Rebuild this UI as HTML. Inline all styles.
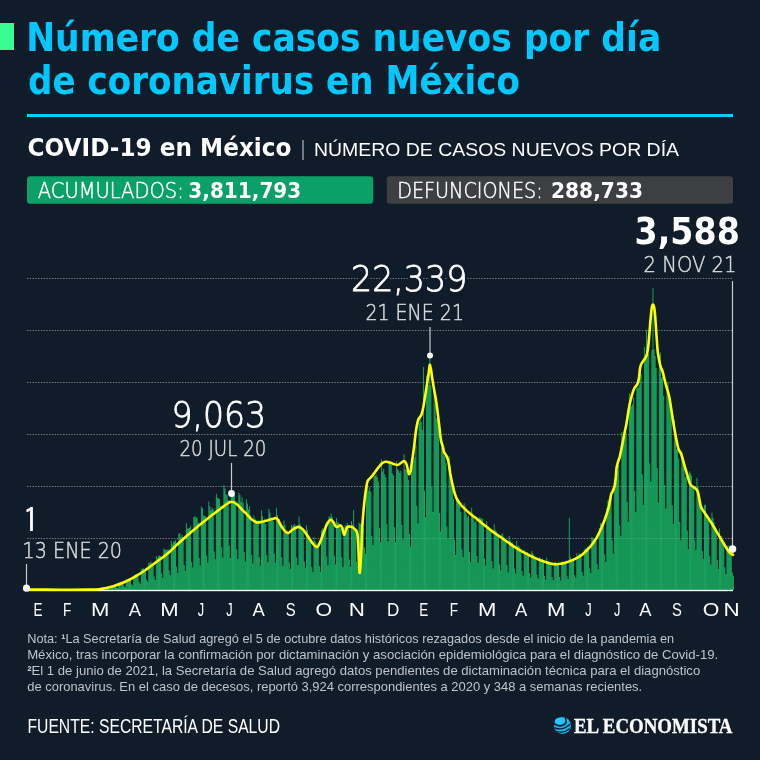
<!DOCTYPE html>
<html lang="es">
<head>
<meta charset="utf-8">
<title>Número de casos nuevos por día de coronavirus en México</title>
<style>
html,body{margin:0;padding:0;background:#101c2a;}
body{width:760px;height:760px;overflow:hidden;position:relative;}
svg{display:block;position:absolute;left:0;top:0;}
.sans{font-family:"Liberation Sans",Arial,sans-serif;}
.dv{font-family:"DejaVu Sans","Liberation Sans",sans-serif;}
.dvl{font-family:"DejaVu Sans","Liberation Sans",sans-serif;font-weight:200;}
.serif{font-family:"Liberation Serif","Times New Roman",serif;}
</style>
</head>
<body>
<svg width="760" height="760" viewBox="0 0 760 760">
  <rect x="0" y="0" width="760" height="760" fill="#101c2a"/>
  <!-- header -->
  <rect x="0" y="23" width="14" height="27" fill="#39fc95"/>
  <g class="dv" font-weight="700" fill="#00c8ff" font-size="39">
    <text x="26.2" y="50.5" textLength="635" lengthAdjust="spacingAndGlyphs">Número de casos nuevos por día</text>
    <text x="28" y="94" textLength="492" lengthAdjust="spacingAndGlyphs">de coronavirus en México</text>
  </g>
  <rect x="27" y="114" width="706" height="3" fill="#00cfff"/>
  <text class="dv" x="27.5" y="156" fill="#ffffff" font-size="25.5" font-weight="700" textLength="264" lengthAdjust="spacingAndGlyphs">COVID-19 en México</text>
  <rect x="302.3" y="140" width="1.4" height="20" fill="#9aa0a8"/>
  <text class="sans" x="314" y="155.7" fill="#ffffff" font-size="18.5" textLength="365" lengthAdjust="spacingAndGlyphs">NÚMERO DE CASOS NUEVOS POR DÍA</text>
  <!-- boxes -->
  <rect x="27" y="176.3" width="346.2" height="27.5" rx="3" fill="#0ba068"/>
  <rect x="386.8" y="176.3" width="346.2" height="27.5" rx="3" fill="#3d3f42"/>
  <g class="dvl" fill="#ffffff" stroke="#ffffff" stroke-width="0.45" font-size="21">
    <text x="37.8" y="198" textLength="146" lengthAdjust="spacingAndGlyphs">ACUMULADOS:</text>
    <text x="397.2" y="198" textLength="145.5" lengthAdjust="spacingAndGlyphs">DEFUNCIONES:</text>
  </g>
  <g class="dv" fill="#ffffff" font-size="20.5" font-weight="700">
    <text x="188.3" y="198" textLength="113" lengthAdjust="spacingAndGlyphs">3,811,793</text>
    <text x="551" y="198" textLength="92" lengthAdjust="spacingAndGlyphs">288,733</text>
  </g>
  <!-- gridlines -->
  <g stroke="#ffffff" stroke-opacity="0.33" stroke-width="1" stroke-dasharray="1.4 1.37">
    <line x1="27" y1="278.5" x2="733" y2="278.5"/>
    <line x1="27" y1="330.5" x2="733" y2="330.5"/>
    <line x1="27" y1="382.5" x2="733" y2="382.5"/>
    <line x1="27" y1="434.5" x2="733" y2="434.5"/>
    <line x1="27" y1="486.5" x2="733" y2="486.5"/>
    <line x1="27" y1="538.5" x2="733" y2="538.5"/>
  </g>
  <!-- bars -->
  <path fill="#19ae60" d="M96.84 589.0h0.92V590H96.84zM97.91 589.0h0.92V590H97.91zM98.98 588.9h0.92V590H98.98zM100.06 588.9h0.92V590H100.06zM101.13 589.4h0.92V590H101.13zM102.20 589.5h0.92V590H102.20zM103.27 588.1h0.92V590H103.27zM104.35 587.8h0.92V590H104.35zM105.42 587.7h0.92V590H105.42zM106.49 587.4h0.92V590H106.49zM107.56 587.3h0.92V590H107.56zM108.64 588.6h0.92V590H108.64zM109.71 588.8h0.92V590H109.71zM110.78 585.8h0.92V590H110.78zM111.85 586.0h0.92V590H111.85zM112.93 585.7h0.92V590H112.93zM114.00 585.1h0.92V590H114.00zM115.07 584.7h0.92V590H115.07zM116.15 587.4h0.92V590H116.15zM117.22 588.0h0.92V590H117.22zM118.29 582.6h0.92V590H118.29zM119.36 583.1h0.92V590H119.36zM120.44 582.3h0.92V590H120.44zM121.51 582.5h0.92V590H121.51zM122.58 582.4h0.92V590H122.58zM123.65 586.3h0.92V590H123.65zM124.73 586.9h0.92V590H124.73zM125.80 579.0h0.92V590H125.80zM126.87 579.4h0.92V590H126.87zM127.95 578.7h0.92V590H127.95zM129.02 578.2h0.92V590H129.02zM130.09 578.3h0.92V590H130.09zM131.16 584.2h0.92V590H131.16zM132.24 585.6h0.92V590H132.24zM133.31 575.4h0.92V590H133.31zM134.38 575.1h0.92V590H134.38zM135.45 574.0h0.92V590H135.45zM136.53 573.9h0.92V590H136.53zM137.60 573.9h0.92V590H137.60zM138.67 582.0h0.92V590H138.67zM139.74 583.7h0.92V590H139.74zM140.82 569.5h0.92V590H140.82zM141.89 568.4h0.92V590H141.89zM142.96 568.5h0.92V590H142.96zM144.04 569.1h0.92V590H144.04zM145.11 568.2h0.92V590H145.11zM146.18 579.6h0.92V590H146.18zM147.25 581.5h0.92V590H147.25zM148.33 562.4h0.92V590H148.33zM149.40 563.6h0.92V590H149.40zM150.47 561.6h0.92V590H150.47zM151.54 563.5h0.92V590H151.54zM152.62 562.7h0.92V590H152.62zM153.69 576.5h0.92V590H153.69zM154.76 580.1h0.92V590H154.76zM155.84 556.3h0.92V590H155.84zM156.91 558.1h0.92V590H156.91zM157.98 556.0h0.92V590H157.98zM159.05 555.4h0.92V590H159.05zM160.13 556.1h0.92V590H160.13zM161.20 573.4h0.92V590H161.20zM162.27 577.8h0.92V590H162.27zM163.34 548.6h0.92V590H163.34zM164.42 549.5h0.92V590H164.42zM165.49 549.7h0.92V590H165.49zM166.56 550.1h0.92V590H166.56zM167.64 548.9h0.92V590H167.64zM168.71 570.2h0.92V590H168.71zM169.78 575.3h0.92V590H169.78zM170.85 540.9h0.92V590H170.85zM171.93 544.4h0.92V590H171.93zM173.00 541.5h0.92V590H173.00zM174.07 541.5h0.92V590H174.07zM175.14 540.1h0.92V590H175.14zM176.22 566.8h0.92V590H176.22zM177.29 572.9h0.92V590H177.29zM178.36 533.8h0.92V590H178.36zM179.43 533.1h0.92V590H179.43zM180.51 537.2h0.92V590H180.51zM181.58 534.7h0.92V590H181.58zM182.65 536.9h0.92V590H182.65zM183.73 565.1h0.92V590H183.73zM184.80 570.8h0.92V590H184.80zM185.87 523.3h0.92V590H185.87zM186.94 528.6h0.92V590H186.94zM188.02 528.5h0.92V590H188.02zM189.09 527.8h0.92V590H189.09zM190.16 525.7h0.92V590H190.16zM191.23 562.1h0.92V590H191.23zM192.31 567.6h0.92V590H192.31zM193.38 516.9h0.92V590H193.38zM194.45 516.0h0.92V590H194.45zM195.53 517.5h0.92V590H195.53zM196.60 517.5h0.92V590H196.60zM197.67 522.6h0.92V590H197.67zM198.74 557.9h0.92V590H198.74zM199.82 565.4h0.92V590H199.82zM200.89 506.6h0.92V590H200.89zM201.96 508.0h0.92V590H201.96zM203.03 515.4h0.92V590H203.03zM204.11 515.7h0.92V590H204.11zM205.18 516.6h0.92V590H205.18zM206.25 555.6h0.92V590H206.25zM207.33 562.8h0.92V590H207.33zM208.40 501.6h0.92V590H208.40zM209.47 506.6h0.92V590H209.47zM210.54 510.2h0.92V590H210.54zM211.62 507.4h0.92V590H211.62zM212.69 509.3h0.92V590H212.69zM213.76 551.5h0.92V590H213.76zM214.83 559.3h0.92V590H214.83zM215.91 493.7h0.92V590H215.91zM216.98 497.8h0.92V590H216.98zM218.05 498.5h0.92V590H218.05zM219.12 498.9h0.92V590H219.12zM220.20 506.1h0.92V590H220.20zM221.27 547.3h0.92V590H221.27zM222.34 557.6h0.92V590H222.34zM223.42 484.9h0.92V590H223.42zM224.49 488.5h0.92V590H224.49zM225.56 494.3h0.92V590H225.56zM226.63 495.2h0.92V590H226.63zM227.71 500.0h0.92V590H227.71zM228.78 545.8h0.92V590H228.78zM229.85 558.1h0.92V590H229.85zM230.92 488.0h0.92V590H230.92zM232.00 490.5h0.92V590H232.00zM233.07 494.3h0.92V590H233.07zM234.14 494.9h0.92V590H234.14zM235.22 500.9h0.92V590H235.22zM236.29 549.2h0.92V590H236.29zM237.36 558.9h0.92V590H237.36zM238.43 492.7h0.92V590H238.43zM239.51 494.8h0.92V590H239.51zM240.58 501.9h0.92V590H240.58zM241.65 497.3h0.92V590H241.65zM242.72 503.6h0.92V590H242.72zM243.80 552.3h0.92V590H243.80zM244.87 561.4h0.92V590H244.87zM245.94 499.2h0.92V590H245.94zM247.01 503.6h0.92V590H247.01zM248.09 509.4h0.92V590H248.09zM249.16 506.3h0.92V590H249.16zM250.23 514.9h0.92V590H250.23zM251.31 554.8h0.92V590H251.31zM252.38 563.4h0.92V590H252.38zM253.45 515.5h0.92V590H253.45zM254.52 518.8h0.92V590H254.52zM255.60 519.7h0.92V590H255.60zM256.67 522.0h0.92V590H256.67zM257.74 520.0h0.92V590H257.74zM258.81 557.2h0.92V590H258.81zM259.89 565.4h0.92V590H259.89zM260.96 510.3h0.92V590H260.96zM262.03 516.1h0.92V590H262.03zM263.11 520.6h0.92V590H263.11zM264.18 518.8h0.92V590H264.18zM265.25 524.1h0.92V590H265.25zM266.32 555.2h0.92V590H266.32zM267.40 562.2h0.92V590H267.40zM268.47 508.7h0.92V590H268.47zM269.54 512.5h0.92V590H269.54zM270.61 517.6h0.92V590H270.61zM271.69 517.9h0.92V590H271.69zM272.76 521.2h0.92V590H272.76zM273.83 553.4h0.92V590H273.83zM274.91 562.8h0.92V590H274.91zM275.98 507.7h0.92V590H275.98zM277.05 515.2h0.92V590H277.05zM278.12 520.0h0.92V590H278.12zM279.20 519.1h0.92V590H279.20zM280.27 522.0h0.92V590H280.27zM281.34 557.3h0.92V590H281.34zM282.41 565.8h0.92V590H282.41zM283.49 520.4h0.92V590H283.49zM284.56 524.8h0.92V590H284.56zM285.63 530.5h0.92V590H285.63zM286.70 530.6h0.92V590H286.70zM287.78 533.7h0.92V590H287.78zM288.85 562.4h0.92V590H288.85zM289.92 568.8h0.92V590H289.92zM291.00 524.9h0.92V590H291.00zM292.07 526.5h0.92V590H292.07zM293.14 524.9h0.92V590H293.14zM294.21 523.9h0.92V590H294.21zM295.29 528.5h0.92V590H295.29zM296.36 557.4h0.92V590H296.36zM297.43 564.9h0.92V590H297.43zM298.50 516.6h0.92V590H298.50zM299.58 523.8h0.92V590H299.58zM300.65 527.1h0.92V590H300.65zM301.72 528.8h0.92V590H301.72zM302.80 531.8h0.92V590H302.80zM303.87 561.6h0.92V590H303.87zM304.94 568.1h0.92V590H304.94zM306.01 525.3h0.92V590H306.01zM307.09 529.7h0.92V590H307.09zM308.16 535.1h0.92V590H308.16zM309.23 536.8h0.92V590H309.23zM310.30 539.3h0.92V590H310.30zM311.38 567.1h0.92V590H311.38zM312.45 572.1h0.92V590H312.45zM313.52 537.2h0.92V590H313.52zM314.60 541.1h0.92V590H314.60zM315.67 543.2h0.92V590H315.67zM316.74 545.3h0.92V590H316.74zM317.81 547.0h0.92V590H317.81zM318.89 566.0h0.92V590H318.89zM319.96 571.8h0.92V590H319.96zM321.03 530.5h0.92V590H321.03zM322.10 528.4h0.92V590H322.10zM323.18 530.4h0.92V590H323.18zM324.25 528.7h0.92V590H324.25zM325.32 524.4h0.92V590H325.32zM326.39 556.6h0.92V590H326.39zM327.47 565.3h0.92V590H327.47zM328.54 516.3h0.92V590H328.54zM329.61 517.5h0.92V590H329.61zM330.69 513.8h0.92V590H330.69zM331.76 517.0h0.92V590H331.76zM332.83 524.6h0.92V590H332.83zM333.90 555.8h0.92V590H333.90zM334.98 564.3h0.92V590H334.98zM336.05 518.1h0.92V590H336.05zM337.12 522.4h0.92V590H337.12zM338.19 522.6h0.92V590H338.19zM339.27 526.2h0.92V590H339.27zM340.34 528.7h0.92V590H340.34zM341.41 557.3h0.92V590H341.41zM342.49 567.1h0.92V590H342.49zM343.56 527.6h0.92V590H343.56zM344.63 525.1h0.92V590H344.63zM345.70 527.3h0.92V590H345.70zM346.78 523.0h0.92V590H346.78zM347.85 524.9h0.92V590H347.85zM348.92 559.4h0.92V590H348.92zM349.99 566.7h0.92V590H349.99zM351.07 521.0h0.92V590H351.07zM352.14 524.4h0.92V590H352.14zM353.21 510.0h0.92V590H353.21zM354.28 528.8h0.92V590H354.28zM355.36 531.0h0.92V590H355.36zM356.43 562.0h0.92V590H356.43zM357.50 566.3h0.92V590H357.50zM358.58 522.4h0.92V590H358.58zM359.65 523.7h0.92V590H359.65zM360.72 523.7h0.92V590H360.72zM361.79 526.3h0.92V590H361.79zM362.87 528.0h0.92V590H362.87zM363.94 547.3h0.92V590H363.94zM365.01 553.4h0.92V590H365.01zM366.08 485.3h0.92V590H366.08zM367.16 484.3h0.92V590H367.16zM368.23 490.8h0.92V590H368.23zM369.30 487.2h0.92V590H369.30zM370.38 491.8h0.92V590H370.38zM371.45 535.9h0.92V590H371.45zM372.52 544.9h0.92V590H372.52zM373.59 476.2h0.92V590H373.59zM374.67 475.5h0.92V590H374.67zM375.74 474.5h0.92V590H375.74zM376.81 477.2h0.92V590H376.81zM377.88 481.8h0.92V590H377.88zM378.96 528.0h0.92V590H378.96zM380.03 542.3h0.92V590H380.03zM381.10 459.2h0.92V590H381.10zM382.18 471.5h0.92V590H382.18zM383.25 468.8h0.92V590H383.25zM384.32 474.3h0.92V590H384.32zM385.39 477.3h0.92V590H385.39zM386.47 524.3h0.92V590H386.47zM387.54 541.4h0.92V590H387.54zM388.61 460.5h0.92V590H388.61zM389.68 462.9h0.92V590H389.68zM390.76 465.0h0.92V590H390.76zM391.83 473.3h0.92V590H391.83zM392.90 475.2h0.92V590H392.90zM393.97 527.0h0.92V590H393.97zM395.05 542.2h0.92V590H395.05zM396.12 461.3h0.92V590H396.12zM397.19 469.0h0.92V590H397.19zM398.27 470.8h0.92V590H398.27zM399.34 473.1h0.92V590H399.34zM400.41 470.7h0.92V590H400.41zM401.48 524.9h0.92V590H401.48zM402.56 539.4h0.92V590H402.56zM403.63 454.3h0.92V590H403.63zM404.70 468.9h0.92V590H404.70zM405.77 470.0h0.92V590H405.77zM406.85 471.4h0.92V590H406.85zM407.92 479.8h0.92V590H407.92zM408.99 533.9h0.92V590H408.99zM410.07 546.4h0.92V590H410.07zM411.14 464.4h0.92V590H411.14zM412.21 466.1h0.92V590H412.21zM413.28 460.3h0.92V590H413.28zM414.36 457.3h0.92V590H414.36zM415.43 445.0h0.92V590H415.43zM416.50 505.8h0.92V590H416.50zM417.57 523.2h0.92V590H417.57zM418.65 423.1h0.92V590H418.65zM419.72 417.9h0.92V590H419.72zM420.79 421.9h0.92V590H420.79zM421.87 430.0h0.92V590H421.87zM422.94 367.0h0.92V590H422.94zM424.01 490.6h0.92V590H424.01zM425.08 517.3h0.92V590H425.08zM426.16 375.6h0.92V590H426.16zM427.23 387.7h0.92V590H427.23zM428.30 385.1h0.92V590H428.30zM429.37 358.0h0.92V590H429.37zM430.45 385.5h0.92V590H430.45zM431.52 486.9h0.92V590H431.52zM432.59 511.9h0.92V590H432.59zM433.66 387.8h0.92V590H433.66zM434.74 404.5h0.92V590H434.74zM435.81 418.0h0.92V590H435.81zM436.88 419.1h0.92V590H436.88zM437.96 425.7h0.92V590H437.96zM439.03 512.8h0.92V590H439.03zM440.10 531.6h0.92V590H440.10zM441.17 435.6h0.92V590H441.17zM442.25 450.9h0.92V590H442.25zM443.32 454.8h0.92V590H443.32zM444.39 456.2h0.92V590H444.39zM445.46 462.9h0.92V590H445.46zM446.54 526.6h0.92V590H446.54zM447.61 538.3h0.92V590H447.61zM448.68 456.1h0.92V590H448.68zM449.76 465.6h0.92V590H449.76zM450.83 484.4h0.92V590H450.83zM451.90 489.7h0.92V590H451.90zM452.97 498.8h0.92V590H452.97zM454.05 540.0h0.92V590H454.05zM455.12 554.9h0.92V590H455.12zM456.19 496.9h0.92V590H456.19zM457.26 499.8h0.92V590H457.26zM458.34 499.5h0.92V590H458.34zM459.41 503.4h0.92V590H459.41zM460.48 511.9h0.92V590H460.48zM461.55 549.5h0.92V590H461.55zM462.63 557.2h0.92V590H462.63zM463.70 503.2h0.92V590H463.70zM464.77 506.3h0.92V590H464.77zM465.85 514.5h0.92V590H465.85zM466.92 517.2h0.92V590H466.92zM467.99 515.5h0.92V590H467.99zM469.06 551.8h0.92V590H469.06zM470.14 562.3h0.92V590H470.14zM471.21 507.4h0.92V590H471.21zM472.28 513.5h0.92V590H472.28zM473.35 515.3h0.92V590H473.35zM474.43 522.6h0.92V590H474.43zM475.50 520.2h0.92V590H475.50zM476.57 556.1h0.92V590H476.57zM477.65 562.4h0.92V590H477.65zM478.72 517.5h0.92V590H478.72zM479.79 517.4h0.92V590H479.79zM480.86 518.8h0.92V590H480.86zM481.94 518.5h0.92V590H481.94zM483.01 525.9h0.92V590H483.01zM484.08 558.8h0.92V590H484.08zM485.15 565.6h0.92V590H485.15zM486.23 521.2h0.92V590H486.23zM487.30 525.4h0.92V590H487.30zM488.37 527.7h0.92V590H488.37zM489.45 530.4h0.92V590H489.45zM490.52 532.1h0.92V590H490.52zM491.59 561.1h0.92V590H491.59zM492.66 568.4h0.92V590H492.66zM493.74 524.2h0.92V590H493.74zM494.81 530.2h0.92V590H494.81zM495.88 531.4h0.92V590H495.88zM496.95 535.1h0.92V590H496.95zM498.03 536.5h0.92V590H498.03zM499.10 564.5h0.92V590H499.10zM500.17 570.4h0.92V590H500.17zM501.24 534.5h0.92V590H501.24zM502.32 533.3h0.92V590H502.32zM503.39 536.7h0.92V590H503.39zM504.46 540.3h0.92V590H504.46zM505.54 541.1h0.92V590H505.54zM506.61 564.8h0.92V590H506.61zM507.68 572.6h0.92V590H507.68zM508.75 535.9h0.92V590H508.75zM509.83 540.6h0.92V590H509.83zM510.90 542.4h0.92V590H510.90zM511.97 542.5h0.92V590H511.97zM513.04 546.6h0.92V590H513.04zM514.12 568.4h0.92V590H514.12zM515.19 573.5h0.92V590H515.19zM516.26 540.8h0.92V590H516.26zM517.34 546.2h0.92V590H517.34zM518.41 546.0h0.92V590H518.41zM519.48 548.0h0.92V590H519.48zM520.55 550.2h0.92V590H520.55zM521.63 570.9h0.92V590H521.63zM522.70 575.8h0.92V590H522.70zM523.77 550.0h0.92V590H523.77zM524.84 551.7h0.92V590H524.84zM525.92 553.5h0.92V590H525.92zM526.99 552.3h0.92V590H526.99zM528.06 555.6h0.92V590H528.06zM529.14 573.2h0.92V590H529.14zM530.21 577.6h0.92V590H530.21zM531.28 551.1h0.92V590H531.28zM532.35 553.0h0.92V590H532.35zM533.43 555.3h0.92V590H533.43zM534.50 557.8h0.92V590H534.50zM535.57 559.2h0.92V590H535.57zM536.64 574.7h0.92V590H536.64zM537.72 578.4h0.92V590H537.72zM538.79 557.2h0.92V590H538.79zM539.86 557.9h0.92V590H539.86zM540.93 559.8h0.92V590H540.93zM542.01 558.7h0.92V590H542.01zM543.08 560.1h0.92V590H543.08zM544.15 575.8h0.92V590H544.15zM545.23 579.7h0.92V590H545.23zM546.30 557.7h0.92V590H546.30zM547.37 561.1h0.92V590H547.37zM548.44 562.1h0.92V590H548.44zM549.52 563.8h0.92V590H549.52zM550.59 563.9h0.92V590H550.59zM551.66 576.9h0.92V590H551.66zM552.73 580.1h0.92V590H552.73zM553.81 561.9h0.92V590H553.81zM554.88 562.0h0.92V590H554.88zM555.95 564.1h0.92V590H555.95zM557.03 563.8h0.92V590H557.03zM558.10 565.0h0.92V590H558.10zM559.17 577.0h0.92V590H559.17zM560.24 580.4h0.92V590H560.24zM561.32 561.7h0.92V590H561.32zM562.39 561.6h0.92V590H562.39zM563.46 562.4h0.92V590H563.46zM564.53 561.7h0.92V590H564.53zM565.61 562.3h0.92V590H565.61zM566.68 575.7h0.92V590H566.68zM567.75 579.0h0.92V590H567.75zM568.82 518.0h0.92V590H568.82zM569.90 557.3h0.92V590H569.90zM570.97 559.3h0.92V590H570.97zM572.04 559.7h0.92V590H572.04zM573.12 558.2h0.92V590H573.12zM574.19 575.1h0.92V590H574.19zM575.26 577.7h0.92V590H575.26zM576.33 553.4h0.92V590H576.33zM577.41 556.2h0.92V590H577.41zM578.48 553.7h0.92V590H578.48zM579.55 553.5h0.92V590H579.55zM580.62 554.8h0.92V590H580.62zM581.70 571.9h0.92V590H581.70zM582.77 575.7h0.92V590H582.77zM583.84 549.5h0.92V590H583.84zM584.92 548.2h0.92V590H584.92zM585.99 548.3h0.92V590H585.99zM587.06 546.7h0.92V590H587.06zM588.13 546.9h0.92V590H588.13zM589.21 567.9h0.92V590H589.21zM590.28 573.1h0.92V590H590.28zM591.35 537.1h0.92V590H591.35zM592.42 538.4h0.92V590H592.42zM593.50 538.2h0.92V590H593.50zM594.57 540.0h0.92V590H594.57zM595.64 541.1h0.92V590H595.64zM596.72 564.3h0.92V590H596.72zM597.79 569.2h0.92V590H597.79zM598.86 527.9h0.92V590H598.86zM599.93 523.1h0.92V590H599.93zM601.01 524.2h0.92V590H601.01zM602.08 522.3h0.92V590H602.08zM603.15 521.6h0.92V590H603.15zM604.22 554.3h0.92V590H604.22zM605.30 562.1h0.92V590H605.30zM606.37 508.1h0.92V590H606.37zM607.44 500.6h0.92V590H607.44zM608.51 499.2h0.92V590H608.51zM609.59 497.3h0.92V590H609.59zM610.66 494.1h0.92V590H610.66zM611.73 540.3h0.92V590H611.73zM612.81 553.5h0.92V590H612.81zM613.88 478.7h0.92V590H613.88zM614.95 481.3h0.92V590H614.95zM616.02 475.7h0.92V590H616.02zM617.10 470.7h0.92V590H617.10zM618.17 465.0h0.92V590H618.17zM619.24 525.4h0.92V590H619.24zM620.31 536.3h0.92V590H620.31zM621.39 432.0h0.92V590H621.39zM622.46 439.0h0.92V590H622.46zM623.53 439.4h0.92V590H623.53zM624.61 435.7h0.92V590H624.61zM625.68 432.3h0.92V590H625.68zM626.75 502.2h0.92V590H626.75zM627.82 521.7h0.92V590H627.82zM628.90 393.3h0.92V590H628.90zM629.97 406.5h0.92V590H629.97zM631.04 406.1h0.92V590H631.04zM632.11 404.2h0.92V590H632.11zM633.19 397.6h0.92V590H633.19zM634.26 490.9h0.92V590H634.26zM635.33 512.1h0.92V590H635.33zM636.41 384.4h0.92V590H636.41zM637.48 388.1h0.92V590H637.48zM638.55 385.5h0.92V590H638.55zM639.62 371.6h0.92V590H639.62zM640.70 374.0h0.92V590H640.70zM641.77 474.3h0.92V590H641.77zM642.84 504.8h0.92V590H642.84zM643.91 346.8h0.92V590H643.91zM644.99 354.6h0.92V590H644.99zM646.06 330.0h0.92V590H646.06zM647.13 352.0h0.92V590H647.13zM648.20 354.0h0.92V590H648.20zM649.28 463.5h0.92V590H649.28zM650.35 481.4h0.92V590H650.35zM651.42 350.0h0.92V590H651.42zM652.50 288.2h0.92V590H652.50zM653.57 349.0h0.92V590H653.57zM654.64 356.0h0.92V590H654.64zM655.71 368.0h0.92V590H655.71zM656.79 467.9h0.92V590H656.79zM657.86 502.8h0.92V590H657.86zM658.93 355.7h0.92V590H658.93zM660.00 352.5h0.92V590H660.00zM661.08 378.0h0.92V590H661.08zM662.15 376.9h0.92V590H662.15zM663.22 396.0h0.92V590H663.22zM664.30 484.9h0.92V590H664.30zM665.37 508.4h0.92V590H665.37zM666.44 385.6h0.92V590H666.44zM667.51 382.8h0.92V590H667.51zM668.59 398.5h0.92V590H668.59zM669.66 401.2h0.92V590H669.66zM670.73 416.4h0.92V590H670.73zM671.80 505.3h0.92V590H671.80zM672.88 523.7h0.92V590H672.88zM673.95 420.1h0.92V590H673.95zM675.02 439.7h0.92V590H675.02zM676.09 449.3h0.92V590H676.09zM677.17 449.6h0.92V590H677.17zM678.24 458.4h0.92V590H678.24zM679.31 522.1h0.92V590H679.31zM680.39 540.0h0.92V590H680.39zM681.46 451.6h0.92V590H681.46zM682.53 460.6h0.92V590H682.53zM683.60 461.3h0.92V590H683.60zM684.68 477.4h0.92V590H684.68zM685.75 475.6h0.92V590H685.75zM686.82 530.4h0.92V590H686.82zM687.89 549.2h0.92V590H687.89zM688.97 471.3h0.92V590H688.97zM690.04 473.3h0.92V590H690.04zM691.11 475.6h0.92V590H691.11zM692.19 485.5h0.92V590H692.19zM693.26 488.7h0.92V590H693.26zM694.33 539.8h0.92V590H694.33zM695.40 549.9h0.92V590H695.40zM696.48 477.7h0.92V590H696.48zM697.55 486.9h0.92V590H697.55zM698.62 494.2h0.92V590H698.62zM699.69 502.5h0.92V590H699.69zM700.77 510.8h0.92V590H700.77zM701.84 551.1h0.92V590H701.84zM702.91 558.9h0.92V590H702.91zM703.99 505.1h0.92V590H703.99zM705.06 504.4h0.92V590H705.06zM706.13 513.9h0.92V590H706.13zM707.20 516.8h0.92V590H707.20zM708.28 518.7h0.92V590H708.28zM709.35 556.3h0.92V590H709.35zM710.42 564.5h0.92V590H710.42zM711.49 512.5h0.92V590H711.49zM712.57 517.8h0.92V590H712.57zM713.64 522.2h0.92V590H713.64zM714.71 526.6h0.92V590H714.71zM715.78 528.6h0.92V590H715.78zM716.86 560.1h0.92V590H716.86zM717.93 568.8h0.92V590H717.93zM719.00 528.6h0.92V590H719.00zM720.08 536.6h0.92V590H720.08zM721.15 536.3h0.92V590H721.15zM722.22 540.6h0.92V590H722.22zM723.29 542.4h0.92V590H723.29zM724.37 567.3h0.92V590H724.37zM725.44 574.0h0.92V590H725.44zM726.51 545.9h0.92V590H726.51zM727.58 545.5h0.92V590H727.58zM728.66 551.8h0.92V590H728.66zM729.73 551.9h0.92V590H729.73zM730.80 554.2h0.92V590H730.80zM731.88 572.5h0.92V590H731.88zM732.95 576.3h0.92V590H732.95z"/>
  <!-- gridlines over bars -->
  <g stroke="#ffffff" stroke-opacity="0.13" stroke-width="1" stroke-dasharray="1.4 1.37">
    <line x1="27" y1="278.5" x2="733" y2="278.5"/>
    <line x1="27" y1="330.5" x2="733" y2="330.5"/>
    <line x1="27" y1="382.5" x2="733" y2="382.5"/>
    <line x1="27" y1="434.5" x2="733" y2="434.5"/>
    <line x1="27" y1="486.5" x2="733" y2="486.5"/>
    <line x1="27" y1="538.5" x2="733" y2="538.5"/>
  </g>
  <rect x="27" y="589.8" width="706" height="1.4" fill="#ffffff"/>
  <!-- annotation lines -->
  <g stroke="#c8c8c8" stroke-width="1.2">
    <line x1="26.5" y1="564" x2="26.5" y2="588"/>
    <line x1="231.5" y1="463" x2="231.5" y2="493"/>
    <line x1="430" y1="327" x2="430" y2="355"/>
    <line x1="732.5" y1="281" x2="732.5" y2="549"/>
  </g>
  <path d="M26.5 589.6C32.1 589.6 49.4 589.7 60.0 589.7C70.6 589.7 83.1 589.7 90.0 589.6C96.9 589.5 97.5 589.4 101.2 588.9C104.9 588.4 108.7 587.5 112.4 586.4C116.1 585.3 119.9 584.1 123.6 582.5C127.3 580.9 131.0 579.0 134.7 576.9C138.4 574.8 142.2 572.4 145.9 569.8C149.6 567.2 153.4 564.3 157.1 561.5C160.8 558.7 165.1 555.7 168.3 553.0C171.5 550.3 173.0 548.4 176.2 545.4C179.4 542.4 183.7 538.6 187.4 535.3C191.1 532.0 194.9 528.9 198.6 525.8C202.3 522.7 206.0 519.8 209.7 516.9C213.4 514.0 217.9 510.7 220.9 508.5C223.9 506.3 225.8 504.6 227.6 503.5C229.4 502.4 230.1 501.7 231.6 501.8C233.1 501.9 235.2 503.1 236.6 504.0C238.0 504.9 238.9 506.1 240.0 507.3C241.1 508.5 242.3 510.0 243.3 511.0C244.3 512.0 244.7 512.0 246.0 513.3C247.3 514.6 249.4 517.5 251.2 519.0C253.0 520.5 254.9 521.9 256.8 522.4C258.7 522.9 260.5 522.2 262.4 521.8C264.3 521.4 266.1 520.7 268.0 520.2C269.9 519.7 272.1 519.0 273.6 518.7C275.1 518.4 275.6 517.2 276.9 518.5C278.2 519.8 280.1 524.2 281.4 526.3C282.7 528.3 283.6 529.7 284.7 530.8C285.8 531.9 286.8 533.2 288.1 533.0C289.4 532.8 290.9 530.7 292.6 529.7C294.3 528.7 296.5 527.0 298.2 526.9C299.9 526.8 301.1 527.7 302.6 529.1C304.1 530.5 305.6 533.1 307.1 535.3C308.6 537.4 310.2 540.1 311.6 542.0C313.0 543.9 314.5 545.8 315.5 546.5C316.5 547.2 316.9 547.4 317.8 546.5C318.7 545.6 319.6 543.3 320.6 540.9C321.6 538.5 322.8 534.8 323.9 531.9C325.0 529.0 326.2 525.5 327.3 523.5C328.4 521.5 329.7 520.0 330.7 519.8C331.7 519.6 332.6 521.2 333.5 522.4C334.4 523.6 335.1 526.4 336.3 526.9C337.5 527.4 339.7 525.1 340.7 525.4C341.7 525.7 341.8 527.0 342.4 528.6C343.0 530.2 343.5 534.3 344.1 534.7C344.7 535.1 345.2 532.1 345.8 530.8C346.4 529.5 346.4 527.5 347.4 526.9C348.4 526.3 350.7 526.7 351.9 527.1C353.1 527.5 353.9 528.3 354.7 529.1C355.5 529.9 356.3 529.8 356.9 531.9C357.5 534.0 357.7 535.2 358.1 542.0C358.5 548.8 359.0 570.2 359.5 572.7C360.0 575.2 360.5 564.6 361.0 557.0C361.5 549.4 361.8 535.4 362.3 527.0C362.8 518.6 363.3 512.4 363.9 506.6C364.4 500.8 365.0 496.1 365.6 492.0C366.2 487.9 366.7 484.1 367.3 482.0C367.9 479.9 368.2 480.1 369.0 479.2C369.8 478.3 370.8 477.6 371.8 476.4C372.8 475.2 374.0 473.4 375.1 471.9C376.2 470.4 377.4 468.8 378.5 467.4C379.6 466.0 380.7 464.4 381.8 463.5C382.9 462.6 383.9 462.0 385.2 461.8C386.5 461.6 388.3 462.0 389.7 462.4C391.1 462.8 392.3 463.5 393.6 463.9C394.9 464.3 396.3 465.1 397.5 465.0C398.7 464.9 399.8 463.7 400.9 463.0C402.0 462.3 403.3 460.8 404.2 461.0C405.1 461.2 405.9 462.5 406.5 464.1C407.1 465.7 407.6 469.1 408.1 470.8C408.6 472.5 408.8 474.3 409.3 474.1C409.8 473.9 410.3 472.5 410.9 469.7C411.4 466.9 412.0 461.5 412.6 457.4C413.2 453.3 413.8 449.2 414.3 445.0C414.8 440.8 415.2 436.2 415.8 432.0C416.4 427.8 417.3 422.9 418.2 420.0C419.1 417.1 420.5 416.9 421.4 414.7C422.3 412.5 422.6 411.0 423.4 406.8C424.2 402.6 425.3 394.9 426.1 389.7C426.9 384.4 427.8 379.5 428.4 375.3C429.0 371.1 429.4 364.5 430.0 364.7C430.6 364.9 431.4 372.7 432.0 376.6C432.6 380.6 433.1 383.8 433.9 388.4C434.7 393.0 435.7 397.8 436.6 404.2C437.5 410.6 438.7 421.0 439.4 427.0C440.1 433.0 440.3 436.7 440.9 440.0C441.5 443.3 442.3 444.6 442.9 446.7C443.4 448.8 443.6 451.2 444.2 452.6C444.8 454.0 445.5 454.0 446.2 455.3C446.9 456.6 447.5 457.6 448.2 460.5C448.9 463.4 449.5 468.7 450.1 472.4C450.8 476.1 451.3 479.4 452.1 482.9C452.9 486.4 453.8 490.5 454.7 493.4C455.6 496.2 456.3 498.0 457.4 500.0C458.5 502.0 459.6 503.3 461.3 505.3C463.1 507.3 465.7 509.8 467.9 511.8C470.1 513.8 472.3 515.3 474.5 517.1C476.7 518.9 479.5 521.1 481.1 522.4C482.7 523.7 482.4 523.5 484.3 525.0C486.2 526.5 489.5 529.3 492.6 531.6C495.8 533.9 499.7 536.5 503.2 539.0C506.7 541.5 510.2 544.0 513.7 546.3C517.2 548.6 520.7 550.7 524.2 552.6C527.7 554.5 531.2 556.3 534.7 557.9C538.2 559.5 542.1 561.0 545.3 562.1C548.5 563.2 551.2 563.9 553.7 564.2C556.2 564.5 558.1 564.0 560.0 563.8C561.9 563.5 563.0 563.4 565.3 562.7C567.6 562.0 570.9 560.9 573.7 559.6C576.5 558.3 579.3 556.9 582.1 554.7C584.9 552.5 588.2 549.0 590.5 546.3C592.8 543.6 594.4 541.5 596.1 538.7C597.8 535.9 599.4 532.4 600.8 529.3C602.2 526.1 603.4 523.5 604.7 519.8C606.0 516.1 607.6 511.3 608.7 507.1C609.8 502.9 610.5 497.1 611.1 494.5C611.8 491.9 612.0 492.8 612.6 491.4C613.2 489.9 614.2 488.2 614.7 485.8C615.2 483.4 615.5 480.1 615.8 477.1C616.1 474.1 616.2 470.3 616.6 467.7C617.0 465.1 617.7 463.1 618.2 461.3C618.7 459.5 619.1 459.2 619.8 456.6C620.4 454.0 621.3 449.4 622.1 445.5C622.9 441.6 623.8 436.5 624.5 432.9C625.2 429.3 625.6 428.5 626.4 424.0C627.2 419.5 628.4 410.7 629.3 406.0C630.2 401.3 631.0 398.5 631.8 395.6C632.6 392.7 633.3 390.4 634.2 388.5C635.1 386.6 636.6 385.8 637.4 384.0C638.2 382.2 638.6 380.6 639.0 378.0C639.4 375.4 639.6 370.8 640.0 368.5C640.4 366.2 640.5 365.6 641.3 364.0C642.0 362.4 643.6 360.8 644.5 359.2C645.4 357.6 646.2 356.9 646.9 354.5C647.5 352.1 647.9 349.7 648.4 345.0C648.9 340.3 649.5 332.2 650.0 326.1C650.5 320.1 651.1 312.3 651.6 308.7C652.1 305.1 652.7 304.2 653.2 304.7C653.7 305.2 654.3 307.3 654.8 311.9C655.3 316.5 655.8 325.6 656.3 332.4C656.8 339.2 657.2 347.4 657.9 352.9C658.6 358.4 659.5 362.4 660.3 365.6C661.1 368.8 661.8 368.8 662.7 371.9C663.6 375.0 664.7 380.3 665.8 384.5C666.9 388.7 668.2 391.4 669.3 397.0C670.4 402.6 671.5 411.3 672.6 418.0C673.7 424.7 674.9 431.9 675.9 437.0C676.9 442.1 677.6 446.0 678.5 448.9C679.4 451.8 680.1 450.9 681.3 454.3C682.5 457.8 684.2 464.7 685.7 469.6C687.2 474.5 688.7 480.8 690.0 483.7C691.3 486.6 692.0 485.7 693.3 487.0C694.6 488.3 696.3 488.1 697.6 491.3C698.9 494.6 699.8 503.1 700.9 506.5C702.0 509.9 702.5 509.5 704.1 512.0C705.7 514.5 708.5 518.3 710.7 521.7C712.9 525.1 715.0 529.0 717.2 532.6C719.4 536.2 721.7 540.2 723.7 543.5C725.7 546.8 727.6 550.3 729.1 552.2C730.6 554.1 732.4 554.4 733.0 554.8" fill="none" stroke="#ffff00" stroke-width="2.6" stroke-linejoin="round" stroke-linecap="round"/>
  <g fill="#ffffff">
    <circle cx="26.5" cy="588.2" r="3.6"/>
    <circle cx="231.5" cy="493.5" r="3.4"/>
    <circle cx="430" cy="355.4" r="3"/>
    <circle cx="732.5" cy="549.1" r="3.8"/>
  </g>
  <!-- annotations text -->
  <text class="dv" x="634.6" y="244" fill="#ffffff" font-size="36.5" font-weight="700" textLength="105.2" lengthAdjust="spacingAndGlyphs">3,588</text>
  <text class="dvl" x="351" y="290.9" font-size="35" textLength="116.3" lengthAdjust="spacingAndGlyphs" fill="#101c2a" stroke="#101c2a" stroke-width="6" stroke-linejoin="round" aria-hidden="true">22,339</text>
  <g class="dvl" fill="#ffffff" stroke="#ffffff" stroke-width="0.8" font-size="35">
    <text x="351" y="290.9" textLength="116.3" lengthAdjust="spacingAndGlyphs">22,339</text>
    <text x="171.4" y="426.8" textLength="94.6" lengthAdjust="spacingAndGlyphs">9,063</text>
      </g>
  <text x="22.4" y="532.6" fill="#ffffff" font-size="34" font-family="IPAGothic, &quot;Liberation Sans&quot;, sans-serif">1</text>
  <g class="dvl" fill="#dcdcdc" stroke="#dcdcdc" stroke-width="0.45" font-size="21">
    <text x="643.6" y="272.2" textLength="92.9" lengthAdjust="spacingAndGlyphs">2 NOV 21</text>
    <text x="365.4" y="320" textLength="98.6" lengthAdjust="spacingAndGlyphs">21 ENE 21</text>
    <text x="179.4" y="455.9" textLength="87" lengthAdjust="spacingAndGlyphs">20 JUL 20</text>
    <text x="22.6" y="558" textLength="99.4" lengthAdjust="spacingAndGlyphs">13 ENE 20</text>
  </g>
  <!-- months -->
  <g class="sans" fill="#ffffff" font-size="18.5" text-anchor="middle" lengthAdjust="spacingAndGlyphs">
    <text x="38" y="616" textLength="9.0" lengthAdjust="spacingAndGlyphs">E</text>
    <text x="67.2" y="616" textLength="8.3" lengthAdjust="spacingAndGlyphs">F</text>
    <text x="100.3" y="616" textLength="18.4" lengthAdjust="spacingAndGlyphs">M</text>
    <text x="134.9" y="616" textLength="12.3" lengthAdjust="spacingAndGlyphs">A</text>
    <text x="169.5" y="616" textLength="18.4" lengthAdjust="spacingAndGlyphs">M</text>
    <text x="201" y="616" textLength="6.4" lengthAdjust="spacingAndGlyphs">J</text>
    <text x="229.4" y="616" textLength="6.4" lengthAdjust="spacingAndGlyphs">J</text>
    <text x="258.6" y="616" textLength="12.3" lengthAdjust="spacingAndGlyphs">A</text>
    <text x="290.7" y="616" textLength="9.9" lengthAdjust="spacingAndGlyphs">S</text>
    <text x="323.8" y="616" textLength="16.6" lengthAdjust="spacingAndGlyphs">O</text>
    <text x="356.9" y="616" textLength="16.2" lengthAdjust="spacingAndGlyphs">N</text>
    <text x="393.1" y="616" textLength="12.3" lengthAdjust="spacingAndGlyphs">D</text>
    <text x="423.8" y="616" textLength="9.0" lengthAdjust="spacingAndGlyphs">E</text>
    <text x="454" y="616" textLength="8.3" lengthAdjust="spacingAndGlyphs">F</text>
    <text x="487.1" y="616" textLength="18.4" lengthAdjust="spacingAndGlyphs">M</text>
    <text x="521.2" y="616" textLength="12.3" lengthAdjust="spacingAndGlyphs">A</text>
    <text x="556.2" y="616" textLength="18.4" lengthAdjust="spacingAndGlyphs">M</text>
    <text x="588.4" y="616" textLength="6.4" lengthAdjust="spacingAndGlyphs">J</text>
    <text x="617.1" y="616" textLength="6.4" lengthAdjust="spacingAndGlyphs">J</text>
    <text x="645.3" y="616" textLength="12.3" lengthAdjust="spacingAndGlyphs">A</text>
    <text x="677" y="616" textLength="9.9" lengthAdjust="spacingAndGlyphs">S</text>
    <text x="711" y="616" textLength="16.6" lengthAdjust="spacingAndGlyphs">O</text>
    <text x="731.5" y="616" textLength="16.2" lengthAdjust="spacingAndGlyphs">N</text>
  </g>
  <!-- notes -->
  <g class="sans" fill="#bfc3ca" font-size="13.5">
    <text x="27.2" y="643" textLength="647" lengthAdjust="spacingAndGlyphs">Nota: <tspan font-weight="700">¹</tspan>La Secretaría de Salud agregó el 5 de octubre datos históricos rezagados desde el inicio de la pandemia en</text>
    <text x="27.2" y="659" textLength="691" lengthAdjust="spacingAndGlyphs">México, tras incorporar la confirmación por dictaminación y asociación epidemiológica para el diagnóstico de Covid-19.</text>
    <text x="27.2" y="675" textLength="673" lengthAdjust="spacingAndGlyphs"><tspan font-weight="700">²</tspan>El 1 de junio de 2021, la Secretaría de Salud agregó datos pendientes de dictaminación técnica para el diagnóstico</text>
    <text x="27.2" y="691" textLength="615" lengthAdjust="spacingAndGlyphs">de coronavirus. En el caso de decesos, reportó 3,924 correspondientes a 2020 y 348 a semanas recientes.</text>
  </g>
  <text class="sans" x="27.5" y="733" fill="#ffffff" font-size="19.5" textLength="252.5" lengthAdjust="spacingAndGlyphs">FUENTE: SECRETARÍA DE SALUD</text>
  <!-- logo -->
  <g>
    <circle cx="562.5" cy="725.6" r="8.5" fill="#13b6ea"/>
    <ellipse cx="559.6" cy="720.8" rx="4.7" ry="3" transform="rotate(-10 559.6 720.8)" fill="#22ccff"/>
    <g fill="none" stroke="#101c2a" stroke-linecap="round">
      <path d="M554.4 723.9 Q559.5 727.6 564.6 724.4 Q567.2 722.3 565.2 717.4" stroke-width="1.5"/>
      <path d="M555 727.8 Q562 731.2 569.8 724.6" stroke-width="1.3"/>
      <path d="M556.6 731.2 Q563.2 734 569.6 728.8" stroke-width="1.1"/>
    </g>
  </g>
  <text class="serif" x="574" y="732.7" fill="#ffffff" stroke="#ffffff" stroke-width="0.35" font-size="22" font-weight="700" textLength="158.5" lengthAdjust="spacingAndGlyphs">EL ECONOMISTA</text>
</svg>
</body>
</html>
